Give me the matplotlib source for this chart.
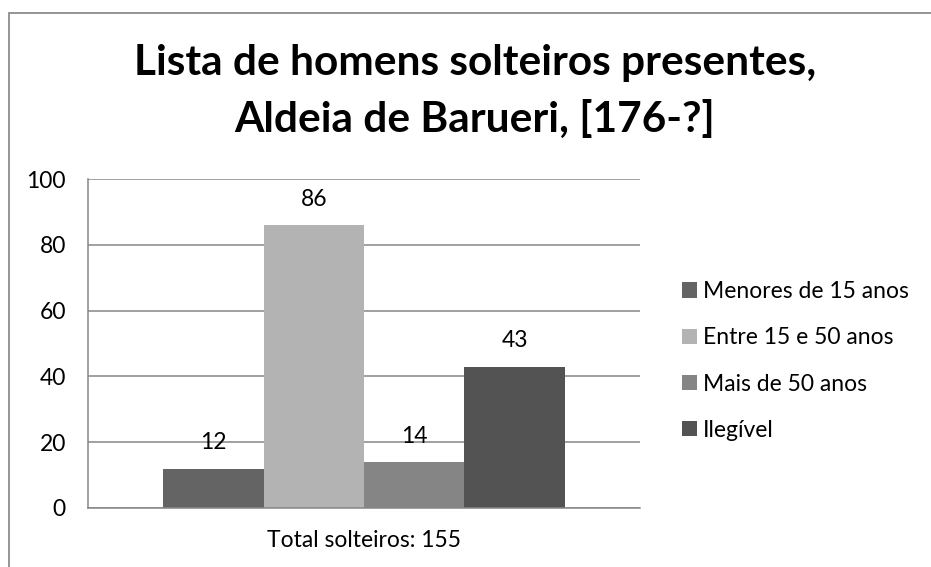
import matplotlib
matplotlib.use("Agg")
import matplotlib.pyplot as plt
from matplotlib.patches import Rectangle, Patch

# ---- data ----
category = ["Total solteiros: 155"]
series_names = ["Menores de 15 anos", "Entre 15 e 50 anos", "Mais de 50 anos", "Ilegível"]
series_values = [12, 86, 14, 43]
series_colors = ["#646464", "#b3b3b3", "#858585", "#535353"]
yticks = [0, 20, 40, 60, 80, 100]
title_lines = ["Lista de homens solteiros presentes,", "Aldeia de Barueri, [176-?]"]

plt.rcParams["font.family"] = ["Lato", "DejaVu Sans"]

W, H = 931, 567
FS = 16.5
fig = plt.figure(figsize=(W / 100, H / 100), dpi=100)

# outer chart frame
fig.patches.append(Rectangle((9 / W, -0.1), 1.2, (H - 13) / H + 0.1,
                             transform=fig.transFigure, fill=False,
                             edgecolor="#8c8c8c", linewidth=1.3))

ax = fig.add_axes([88 / W, (H - 508) / H, 552 / W, 329 / H])

n = len(series_values)
bw = 0.182
for i, (name, v, c) in enumerate(zip(series_names, series_values, series_colors)):
    x = (i - (n - 1) / 2) * bw
    bars = ax.bar([x], [v], width=bw, color=c, label=name, zorder=3)
    ax.bar_label(bars, labels=[str(v)], padding=11, fontsize=FS, color="black")

ax.set_xlim(-0.5, 0.5)
ax.set_ylim(0, 100)
ax.set_yticks(yticks)
ax.set_yticklabels([str(t) for t in yticks])
ax.set_xticks([0])
ax.set_xticklabels(category)
ax.tick_params(axis="y", length=0, pad=16, labelsize=FS)
ax.tick_params(axis="x", length=0, pad=16, labelsize=FS)
ax.grid(axis="y", color="#868686", linewidth=1.1, zorder=0)
for s in ["top", "right"]:
    ax.spines[s].set_visible(False)
for s in ["left", "bottom"]:
    ax.spines[s].set_color("#868686")
    ax.spines[s].set_linewidth(1.1)
    ax.spines[s].set_zorder(4)

handles = [Patch(facecolor=c, edgecolor="none") for c in series_colors]
fig.legend(handles, series_names, loc="center left",
           bbox_to_anchor=(682 / W, 1 - 361 / H), frameon=False,
           fontsize=FS, handlelength=0.655, handleheight=0.655,
           handletextpad=0.26, labelspacing=1.1, borderpad=0, borderaxespad=0)

fig.text(475 / W, 1 - 75 / H, title_lines[0], ha="center", va="baseline",
         fontsize=30.5, fontweight="bold")
fig.text(475 / W, 1 - 132 / H, title_lines[1], ha="center", va="baseline",
         fontsize=30.5, fontweight="bold")

fig.savefig("out.png", dpi=100)
